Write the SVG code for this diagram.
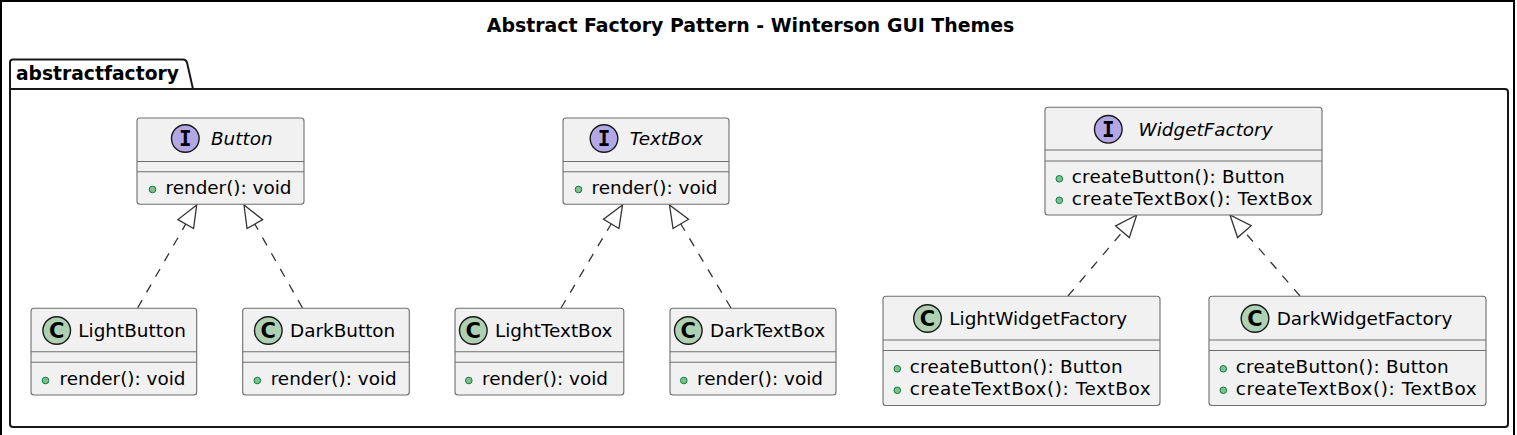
<svg xmlns="http://www.w3.org/2000/svg" width="1517" height="435" viewBox="0 0 1517 435">
<defs>
<style>
.box{fill:#F1F1F1;stroke:#6e6e6e;stroke-width:1.1}
.sep{stroke:#6e6e6e;stroke-width:1.1}
.ci{fill:#B4A7E5;stroke:#181818;stroke-width:1.4}
.cc{fill:#ADD1B2;stroke:#181818;stroke-width:1.4}
.lt{font-family:"DejaVu Sans Mono",monospace;font-weight:bold;font-size:21px;fill:#000;text-anchor:middle}
.lc{font-family:"DejaVu Sans",sans-serif;font-weight:bold;font-size:21px;fill:#000;text-anchor:middle}
.nm{font-family:"DejaVu Sans",sans-serif;font-size:18.4px;fill:#000}
.it{font-style:italic}
.dot{fill:#84BE84;stroke:#038048;stroke-width:1}
.edge{fill:none;stroke:#333;stroke-width:1.3;stroke-dasharray:9,9;marker-end:url(#ext)}
</style>
<marker id="ext" viewBox="-24 -11 26 22" refX="0" refY="0" markerWidth="26" markerHeight="22" orient="auto" markerUnits="userSpaceOnUse">
<path d="M0,0 L-22,-9 L-22,9 Z" fill="#fff" stroke="#333" stroke-width="1.3" stroke-dasharray="none"/>
</marker>
</defs>
<rect width="1517" height="435" fill="#fff"/>
<path d="M1,435 L1,1 L1514,1 L1514,435" fill="none" stroke="#000" stroke-width="2"/>
<text x="750.5" y="32" font-family="DejaVu Sans,sans-serif" font-weight="bold" font-size="18.9" text-anchor="middle">Abstract Factory Pattern - Winterson GUI Themes</text>

<g id="package-abstractfactory">
<path d="M13,59.5 L183,59.5 Q186,59.5 187,62.5 L193,89 L1505,89 Q1508,89 1508,92 L1508,424 Q1508,427 1505,427 L13,427 Q10,427 10,424 L10,62.5 Q10,59.5 13,59.5 Z" fill="none" stroke="#181818" stroke-width="2"/>
<line x1="10" y1="89" x2="193" y2="89" stroke="#181818" stroke-width="2"/>
<text x="16" y="80" font-family="DejaVu Sans,sans-serif" font-weight="bold" font-size="18.7">abstractfactory</text>
</g>

<g id="connectors">
<path class="edge" d="M137.6,308 L196.7,205"/>
<path class="edge" d="M302.5,308 L244,205"/>
<path class="edge" d="M561,308 L622.5,205"/>
<path class="edge" d="M731,308 L669.5,205"/>
<path class="edge" d="M1068,296 L1136.7,215"/>
<path class="edge" d="M1300,296 L1230,215"/>
</g>

<g id="Button">
<rect class="box" x="137" y="118" width="167" height="86.3" rx="3"/>
<line class="sep" x1="137" y1="161.5" x2="304" y2="161.5"/>
<line class="sep" x1="137" y1="171.7" x2="304" y2="171.7"/>
<circle class="ci" cx="185.3" cy="138.5" r="13.8"/>
<text class="lt" x="185.3" y="145.8">I</text>
<text class="nm it" x="211" y="145">Button</text>
<circle class="dot" cx="152.5" cy="189.5" r="3.3"/>
<text class="nm" x="165.5" y="194">render(): void</text>
</g>

<g id="TextBox">
<rect class="box" x="563" y="118" width="166" height="86.3" rx="3"/>
<line class="sep" x1="563" y1="161.5" x2="729" y2="161.5"/>
<line class="sep" x1="563" y1="171.7" x2="729" y2="171.7"/>
<circle class="ci" cx="604" cy="138.5" r="13.8"/>
<text class="lt" x="604" y="145.8">I</text>
<text class="nm it" x="629.7" y="145">TextBox</text>
<circle class="dot" cx="578.5" cy="189.5" r="3.3"/>
<text class="nm" x="591.5" y="194">render(): void</text>
</g>

<g id="WidgetFactory">
<rect class="box" x="1045" y="107.3" width="277" height="107.7" rx="3"/>
<line class="sep" x1="1045" y1="150" x2="1322" y2="150"/>
<line class="sep" x1="1045" y1="161" x2="1322" y2="161"/>
<circle class="ci" cx="1108.3" cy="129.3" r="13.8"/>
<text class="lt" x="1108.3" y="136.6">I</text>
<text class="nm it" x="1138.5" y="136">WidgetFactory</text>
<circle class="dot" cx="1059.3" cy="178.8" r="3.3"/>
<text class="nm" x="1071.7" y="183.3" textLength="213" lengthAdjust="spacing">createButton(): Button</text>
<circle class="dot" cx="1059.3" cy="200.3" r="3.3"/>
<text class="nm" x="1071.7" y="204.8" textLength="241" lengthAdjust="spacing">createTextBox(): TextBox</text>
</g>

<g id="LightButton">
<rect class="box" x="31" y="308.3" width="165.7" height="86.7" rx="3"/>
<line class="sep" x1="31" y1="351.7" x2="196.7" y2="351.7"/>
<line class="sep" x1="31" y1="362.3" x2="196.7" y2="362.3"/>
<circle class="cc" cx="56.7" cy="330.5" r="13.8"/>
<text class="lc" x="56.7" y="338">C</text>
<text class="nm" x="78.3" y="337">LightButton</text>
<circle class="dot" cx="45.5" cy="380.5" r="3.3"/>
<text class="nm" x="59.5" y="385">render(): void</text>
</g>

<g id="DarkButton">
<rect class="box" x="242.7" y="308.3" width="166.6" height="86.7" rx="3"/>
<line class="sep" x1="242.7" y1="351.7" x2="409.3" y2="351.7"/>
<line class="sep" x1="242.7" y1="362.3" x2="409.3" y2="362.3"/>
<circle class="cc" cx="268.3" cy="330.5" r="13.8"/>
<text class="lc" x="268.3" y="338">C</text>
<text class="nm" x="290" y="337">DarkButton</text>
<circle class="dot" cx="257.3" cy="380.5" r="3.3"/>
<text class="nm" x="270.7" y="385">render(): void</text>
</g>

<g id="LightTextBox">
<rect class="box" x="455" y="308.3" width="168.8" height="86.7" rx="3"/>
<line class="sep" x1="455" y1="351.7" x2="623.8" y2="351.7"/>
<line class="sep" x1="455" y1="362.3" x2="623.8" y2="362.3"/>
<circle class="cc" cx="473.3" cy="330.5" r="13.8"/>
<text class="lc" x="473.3" y="338">C</text>
<text class="nm" x="495" y="337">LightTextBox</text>
<circle class="dot" cx="468.8" cy="380.5" r="3.3"/>
<text class="nm" x="482" y="385">render(): void</text>
</g>

<g id="DarkTextBox">
<rect class="box" x="670" y="308.3" width="166" height="86.7" rx="3"/>
<line class="sep" x1="670" y1="351.7" x2="836" y2="351.7"/>
<line class="sep" x1="670" y1="362.3" x2="836" y2="362.3"/>
<circle class="cc" cx="688.3" cy="330.5" r="13.8"/>
<text class="lc" x="688.3" y="338">C</text>
<text class="nm" x="710" y="337">DarkTextBox</text>
<circle class="dot" cx="683.8" cy="380.5" r="3.3"/>
<text class="nm" x="697" y="385">render(): void</text>
</g>

<g id="LightWidgetFactory">
<rect class="box" x="883" y="296.3" width="277" height="109.2" rx="3"/>
<line class="sep" x1="883" y1="340" x2="1160" y2="340"/>
<line class="sep" x1="883" y1="350.5" x2="1160" y2="350.5"/>
<circle class="cc" cx="927.5" cy="318.5" r="13.8"/>
<text class="lc" x="927.5" y="326">C</text>
<text class="nm" x="949.3" y="325">LightWidgetFactory</text>
<circle class="dot" cx="897.3" cy="368.8" r="3.3"/>
<text class="nm" x="909.7" y="373.3" textLength="213" lengthAdjust="spacing">createButton(): Button</text>
<circle class="dot" cx="897.3" cy="390.3" r="3.3"/>
<text class="nm" x="909.7" y="394.8" textLength="241" lengthAdjust="spacing">createTextBox(): TextBox</text>
</g>

<g id="DarkWidgetFactory">
<rect class="box" x="1209" y="296.3" width="277" height="109.2" rx="3"/>
<line class="sep" x1="1209" y1="340" x2="1486" y2="340"/>
<line class="sep" x1="1209" y1="350.5" x2="1486" y2="350.5"/>
<circle class="cc" cx="1255" cy="318.5" r="13.8"/>
<text class="lc" x="1255" y="326">C</text>
<text class="nm" x="1276.7" y="325">DarkWidgetFactory</text>
<circle class="dot" cx="1223.3" cy="368.8" r="3.3"/>
<text class="nm" x="1235.7" y="373.3" textLength="213" lengthAdjust="spacing">createButton(): Button</text>
<circle class="dot" cx="1223.3" cy="390.3" r="3.3"/>
<text class="nm" x="1235.7" y="394.8" textLength="241" lengthAdjust="spacing">createTextBox(): TextBox</text>
</g>
</svg>
